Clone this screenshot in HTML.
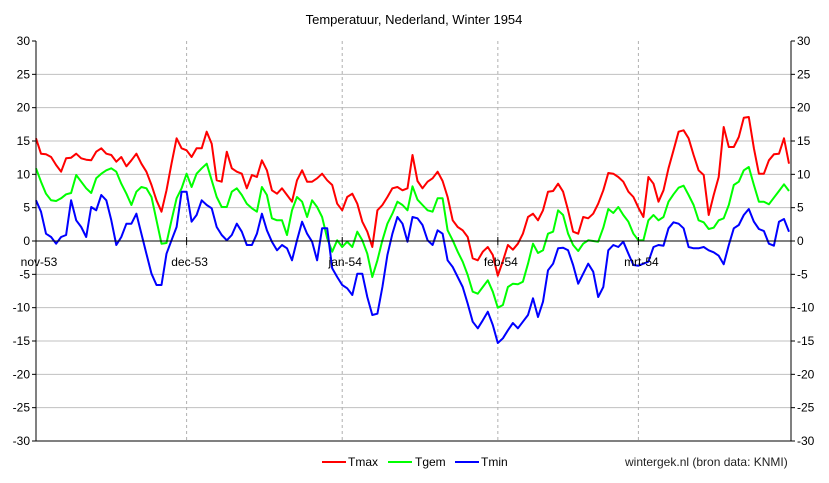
<!DOCTYPE html>
<html><head><meta charset="utf-8"><style>
html,body{margin:0;padding:0;background:#fff;}
svg{display:block;font-family:"Liberation Sans",sans-serif;}
</style></head><body>
<svg id="chart" width="829" height="483" viewBox="0 0 829 483" xmlns="http://www.w3.org/2000/svg">
<text x="414" y="24" text-anchor="middle" font-size="13" fill="#000">Temperatuur, Nederland, Winter 1954</text>
<g id="grid"></g>
<g id="series"></g>
<g id="axes"></g>
<g font-size="12">
<line x1="322" y1="462" x2="346" y2="462" stroke="#ff0000" stroke-width="2"/>
<text x="348" y="466">Tmax</text>
<line x1="388" y1="462" x2="412" y2="462" stroke="#00ff00" stroke-width="2"/>
<text x="415" y="466">Tgem</text>
<line x1="455" y1="462" x2="479" y2="462" stroke="#0000ff" stroke-width="2"/>
<text x="481" y="466">Tmin</text>
</g>
<text x="625" y="466" font-size="12" fill="#222">wintergek.nl (bron data: KNMI)</text>
</svg>
<script>
const months = ["nov-53","dec-53","jan-54","feb-54","mrt-54"];
const monthStartDays = [0,30,61,92,120];
const yTicks = [-30,-25,-20,-15,-10,-5,0,5,10,15,20,25,30];
const tmax = [15.4,13.1,13,12.6,11.4,10.4,12.4,12.5,13.1,12.4,12.2,12.1,13.4,13.9,13.1,12.9,11.9,12.6,11.2,12.1,13.1,11.6,10.4,8.4,6.1,4.4,7.6,11.6,15.4,13.9,
13.6,12.6,13.9,13.9,16.4,14.6,9.1,8.9,13.4,10.9,10.4,10.1,7.9,9.9,9.6,12.1,10.6,7.6,7.1,7.9,6.9,5.9,9.1,10.6,8.9,8.9,9.4,10.1,9.1,8.4,5.6,
4.6,6.6,7.1,5.6,2.9,1.4,-0.9,4.6,5.4,6.6,7.9,8.1,7.6,7.9,12.9,9.0,7.9,8.9,9.4,10.4,9.0,6.6,3.1,2.1,1.6,0.6,-2.6,-2.9,-1.6,-0.9,-2.1,-5.2,
-3.0,-0.6,-1.3,-0.4,1.1,3.6,4.1,3.1,4.6,7.4,7.5,8.6,7.4,4.6,1.4,1.1,3.6,3.4,4.1,5.6,7.6,10.2,10.1,9.6,8.9,7.4,
6.6,5.0,3.6,9.6,8.6,5.9,7.6,10.9,13.6,16.4,16.6,15.4,12.9,10.6,9.9,3.9,6.9,9.6,17.1,14.1,14.1,15.6,18.5,18.6,13.9,10.1,10.1,12.1,13.0,13.1,15.4,11.6];
const tgem = [10.9,8.9,7.1,6.1,6,6.4,7,7.2,9.9,8.9,7.9,7.2,9.4,10.1,10.6,10.9,10.4,8.6,7.1,5.4,7.4,8.1,7.9,6.6,3.1,-0.4,-0.3,3.1,6.4,7.9,
10.1,8.1,10.1,10.9,11.6,9.1,6.6,5.1,5.1,7.4,7.9,6.9,5.6,4.9,4.4,8.1,6.9,3.4,3.1,3.1,0.9,4.6,6.6,5.9,3.6,6.1,5.1,3.6,0.4,-1.6,0.1,
-0.9,-0.1,-0.9,1.4,0.1,-1.9,-5.4,-2.9,0.1,2.6,4.1,5.9,5.4,4.6,8.2,6.2,5.4,4.6,4.4,6.4,6.4,1.6,0.1,-1.6,-3.1,-5.1,-7.6,-7.9,-6.9,-5.9,-7.6,-10.0,
-9.6,-6.9,-6.4,-6.5,-6.1,-3.4,-0.4,-1.8,-1.4,1.1,1.4,4.6,3.9,1.1,-0.6,-1.5,-0.4,0.1,0.0,-0.1,2.0,4.8,4.2,5.1,3.9,2.9,
1.1,0.1,0.1,3.1,3.9,3.1,3.6,5.9,7.0,8.0,8.3,6.9,5.4,3.1,2.8,1.8,2.0,3.1,3.4,5.4,8.4,8.9,10.6,11.1,8.4,5.9,5.9,5.5,6.5,7.5,8.5,7.5];
const tmin = [6.1,4.4,1.1,0.6,-0.4,0.6,0.9,6.1,3.1,2.1,0.6,5.1,4.6,6.9,6.1,3.1,-0.6,0.6,2.6,2.6,4.1,1.1,-1.9,-4.9,-6.6,-6.6,-1.9,0.1,2.1,7.4,
7.4,2.9,3.9,6.1,5.4,4.9,2.1,0.9,0.1,0.9,2.6,1.4,-0.6,-0.6,1.1,4.1,1.6,-0.1,-1.4,-0.6,-1.1,-2.9,0.1,2.9,1.1,-0.1,-2.9,1.9,1.9,-4.1,-5.4,
-6.6,-7.1,-8.1,-4.9,-4.9,-8.4,-11.1,-10.9,-6.9,-2.1,1.1,3.6,2.6,-0.1,3.6,3.4,2.4,0.1,-0.6,1.6,1.1,-2.9,-3.9,-5.4,-6.9,-9.4,-12.1,-13.1,-11.9,-10.6,-12.6,-15.3,
-14.6,-13.4,-12.3,-13.1,-12.1,-11.1,-8.6,-11.4,-9.1,-4.4,-3.4,-1.1,-1.0,-1.4,-3.6,-6.4,-4.9,-3.4,-4.6,-8.4,-6.9,-1.4,-0.6,-0.9,-0.1,-1.9,
-3.6,-3.7,-3.4,-3.1,-0.9,-0.6,-0.7,1.9,2.8,2.6,1.9,-0.9,-1.1,-1.1,-0.9,-1.4,-1.7,-2.2,-3.5,-0.6,1.9,2.4,3.9,4.8,2.9,1.8,1.5,-0.4,-0.7,2.9,3.3,1.4];

const NS="http://www.w3.org/2000/svg";
const L=36,R=791,T=41,B=441;
function xs(i){return L+i*5.02;}
function ys(v){return T+(30-v)*(B-T)/60;}
function mk(tag,attrs,parent){const e=document.createElementNS(NS,tag);for(const k in attrs)e.setAttribute(k,attrs[k]);parent.appendChild(e);return e;}
const grid=document.getElementById('grid'),axes=document.getElementById('axes'),series=document.getElementById('series');

yTicks.forEach(v=>{
  if(v!==0&&v!==30&&v!==-30){
    const g=mk('line',{x1:L,x2:R,y1:ys(v),y2:ys(v),stroke:'#c0c0c0','stroke-width':1},grid);
    
    
  }
  const tl=mk('text',{x:30,y:ys(v)+4,'text-anchor':'end','font-size':12},axes);
  tl.textContent=v;
  
  
  const tr=mk('text',{x:797,y:ys(v)+4,'text-anchor':'start','font-size':12},axes);
  tr.textContent=v;
  
  
  const k1=mk('line',{x1:L-4,x2:L,y1:ys(v),y2:ys(v),stroke:'#000'},axes);
  
  
  const k2=mk('line',{x1:R,x2:R+4,y1:ys(v),y2:ys(v),stroke:'#000'},axes);
  
  
});
monthStartDays.forEach((d,j)=>{
  const x=xs(d);
  if(j>0){
    const vl=mk('line',{x1:x,x2:x,y1:T,y2:B,stroke:'#b0b0b0','stroke-dasharray':'3,3'},grid);
    
    
  }
  const tk=mk('line',{x1:x,x2:x,y1:ys(0)-4,y2:ys(0)+4,stroke:'#000'},axes);
  
  
  const lb=mk('text',{x:x+3,y:ys(0)+25,'text-anchor':'middle','font-size':12},axes);
  lb.textContent=months[j];
  
  
});
const zl=mk('line',{x1:L,x2:R,y1:ys(0),y2:ys(0),stroke:'#000'},axes);


const al=mk('line',{x1:L,x2:L,y1:T,y2:B,stroke:'#000'},axes);


const ar=mk('line',{x1:R,x2:R,y1:T,y2:B,stroke:'#000'},axes);


const ab=mk('line',{x1:L,x2:R,y1:B,y2:B,stroke:'#000'},axes);



[[tmax,'#ff0000','tmax-line'],[tgem,'#00ff00','tgem-line'],[tmin,'#0000ff','tmin-line']].forEach(s=>{
  const pts=s[0].map((v,i)=>xs(i).toFixed(1)+','+ys(v).toFixed(1)).join(' ');
  const p=mk('polyline',{points:pts,fill:'none',stroke:s[1],'stroke-width':2,'stroke-linejoin':'round'},series);
  
  
});
</script>
</body></html>
